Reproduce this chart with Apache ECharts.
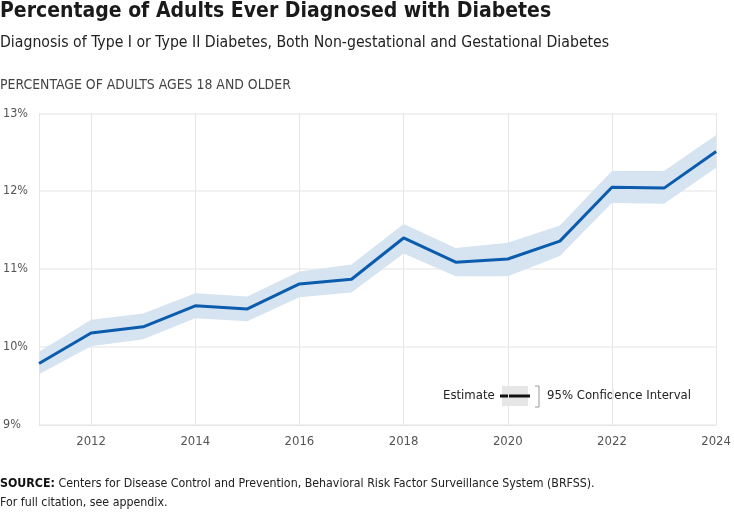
<!DOCTYPE html>
<html>
<head>
<meta charset="utf-8">
<script src="https://cdn.jsdelivr.net/npm/echarts@6/dist/echarts.min.js"></script>
<style>
  html, body { margin: 0; padding: 0; background: #fff; }
  #main { width: 734px; height: 512px; }
</style>
</head>
<body>
<div id="main"></div>
<script>
// data
var years = ['2011', '2012', '2013', '2014', '2015', '2016', '2017', '2018', '2019', '2020', '2021', '2022', '2023', '2024'];
var estimate = [9.79, 10.18, 10.26, 10.53, 10.49, 10.81, 10.87, 11.40, 11.09, 11.13, 11.36, 12.05, 12.04, 12.51];
var ciLower = [9.65, 10.01, 10.10, 10.37, 10.33, 10.64, 10.70, 11.20, 10.91, 10.91, 11.17, 11.85, 11.84, 12.30];
var ciUpper = [9.94, 10.35, 10.43, 10.69, 10.65, 10.97, 11.06, 11.58, 11.27, 11.34, 11.56, 12.26, 12.26, 12.72];
var yTicks = [9, 10, 11, 12, 13];

var ciWidth = ciUpper.map(function (v, i) { return +(v - ciLower[i]).toFixed(3); });

var FONT = '"DejaVu Sans Condensed", Roboto, sans-serif';

var myChart = echarts.init(document.getElementById('main'));
myChart.setOption({
  animation: false,
  textStyle: { fontFamily: FONT },
  grid: { left: 36.5, right: 16, top: 113.3, bottom: 87 },
  xAxis: {
    type: 'category',
    data: years,
    boundaryGap: false,
    axisLine: { show: true, lineStyle: { color: '#e6e6e6', width: 1 } },
    axisTick: { show: false },
    axisLabel: {
      interval: function (i, v) { return +v % 2 === 0; },
      color: '#555', fontSize: 13, margin: 10, fontFamily: FONT
    },
    splitLine: {
      show: true,
      interval: function (i, v) { return +v % 2 === 0 || i === 0; },
      lineStyle: { color: '#e6e6e6', width: 1 }
    }
  },
  yAxis: {
    type: 'value',
    min: yTicks[0],
    max: yTicks[yTicks.length - 1],
    interval: 1,
    axisLine: { show: false },
    axisTick: { show: false },
    axisLabel: {
      formatter: '{value}%',
      align: 'left',
      margin: 36,
      color: '#555', fontSize: 12.5, fontFamily: FONT
    },
    splitLine: { lineStyle: { color: '#ececec', width: 1.5 } }
  },
  series: [{
    name: 'lower',
    type: 'line',
    stack: 'ci',
    data: ciLower,
    symbol: 'none',
    lineStyle: { opacity: 0 },
    silent: true
  }, {
    name: 'ci',
    type: 'line',
    stack: 'ci',
    data: ciWidth,
    symbol: 'none',
    lineStyle: { opacity: 0 },
    areaStyle: { color: '#d6e4f1', opacity: 1 },
    silent: true
  }, {
    name: 'Estimate',
    type: 'line',
    data: estimate,
    symbol: 'none',
    lineStyle: { color: '#0b5cad', width: 3 },
    z: 5
  }],
  graphic: [
    { type: 'text', left: 0, top: 1, style: { text: 'Percentage of Adults Ever Diagnosed with Diabetes', font: 'bold 21px ' + FONT, fill: '#1a1a1a' } },
    { type: 'text', left: 0, top: 35, style: { text: 'Diagnosis of Type I or Type II Diabetes, Both Non-gestational and Gestational Diabetes', font: '15.7px ' + FONT, fill: '#222' } },
    { type: 'text', left: 0, top: 78, style: { text: 'PERCENTAGE OF ADULTS AGES 18 AND OLDER', font: '13.9px ' + FONT, fill: '#444' } },
    // legend
    { type: 'text', left: 443, top: 389, style: { text: 'Estimate', font: '13px ' + FONT, fill: '#222' } },
    { type: 'rect', shape: { x: 502, y: 386, width: 26, height: 20 }, style: { fill: '#e6e6e6' } },
    { type: 'line', shape: { x1: 500, y1: 396, x2: 530, y2: 396 }, style: { stroke: '#111', lineWidth: 3 } },
    { type: 'polyline', shape: { points: [[535, 386], [539, 386], [539, 407], [535, 407]] }, style: { stroke: '#999', lineWidth: 1, fill: null } },
    { type: 'text', left: 547, top: 389, style: { text: '95% Confidence Interval', font: '13px ' + FONT, fill: '#222' } },
    // footer
    { type: 'text', left: 0, top: 478, style: { text: '{b|SOURCE:} Centers for Disease Control and Prevention, Behavioral Risk Factor Surveillance System (BRFSS).', font: '12.3px ' + FONT, fill: '#222', rich: { b: { fontWeight: 'bold', fontSize: 12.3, fontFamily: FONT, fill: '#111' } } } },
    { type: 'text', left: 0, top: 497, style: { text: 'For full citation, see appendix.', font: '12.3px ' + FONT, fill: '#222' } }
  ]
});
</script>
</body>
</html>
